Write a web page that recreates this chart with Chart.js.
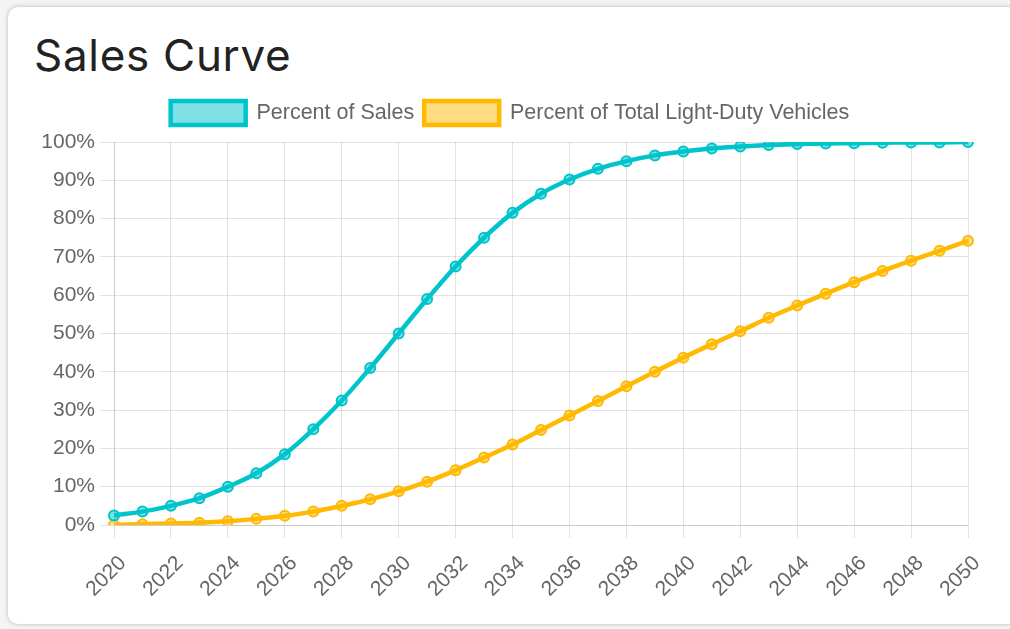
<!DOCTYPE html>
<html lang="en">
<head>
    <meta charset="UTF-8">
    <title>Sales Curve</title>
    <script src="https://cdn.jsdelivr.net/npm/chart.js"></script>
    <style>
        body { margin: 0; background: #f4f4f4; width: 1010px; height: 629px; overflow: hidden; }
        .card {
            position: absolute; left: 8px; top: 7px; width: 1010px; height: 617px;
            background: #fff; border-radius: 10px;
            box-shadow: 0 0 4px rgba(0,0,0,0.25);
        }
        h2 {
            position: absolute; left: 26px; top: 21px; margin: 0;
            font-family: "Inter", sans-serif; font-weight: 400; font-size: 44px;
            color: #222; letter-spacing: 0.7px;
        }
        #salesChart { position: absolute; left: 0; top: 82px; }
    </style>
</head>
<body>
<div class="card">
    <h2>Sales Curve</h2>
    <canvas id="salesChart" width="1000" height="520"></canvas>
</div>
<script>
    const years = [];
    for (let y = 2020; y <= 2050; y++) years.push(String(y));

    const percentOfSales = [2.5, 3.5, 5, 7, 10, 13.5, 18.5, 25, 32.5, 41, 50, 59, 67.5, 75, 81.5, 86.5,
        90.2, 93, 95, 96.5, 97.5, 98.3, 98.8, 99.2, 99.5, 99.6, 99.7, 99.8, 99.9, 99.9, 100];
    const percentOfTotal = [0, 0.2, 0.4, 0.6, 1, 1.6, 2.4, 3.5, 5, 6.7, 8.8, 11.3, 14.3, 17.6, 21, 24.8,
        28.6, 32.4, 36.2, 40, 43.7, 47.2, 50.6, 54.1, 57.3, 60.4, 63.4, 66.3, 69, 71.6, 74.2];

    const cyan = "rgb(0,196,204)";
    const yellow = "rgb(255,185,0)";
    const tickFont = { size: 21, family: "Liberation Sans, Arial" };

    // more room under the legend, and push it right so it sits over the plot
    const legendTweak = {
        id: "legendTweak",
        beforeInit(chart) {
            const legend = chart.legend;
            const fit = legend.fit;
            legend.fit = function () {
                fit.call(this);
                this.height += 7;
            };
            const draw = legend.draw;
            legend.draw = function (area) {
                this.left += 22; this.right += 22;
                draw.call(this, area);
                this.left -= 22; this.right -= 22;
            };
        }
    };

    const ctx = document.getElementById("salesChart").getContext("2d");
    new Chart(ctx, {
        type: "line",
        data: {
            labels: years,
            datasets: [
                { label: "Percent of Sales", data: percentOfSales, borderColor: cyan,
                  backgroundColor: "rgba(0,196,204,0.5)", borderWidth: 4.5, pointRadius: 5,
                  pointBorderWidth: 2, tension: 0.4, fill: false },
                { label: "Percent of Total Light-Duty Vehicles", data: percentOfTotal, borderColor: yellow,
                  backgroundColor: "rgba(255,185,0,0.5)", borderWidth: 4.5, pointRadius: 5,
                  pointBorderWidth: 2, tension: 0.4, fill: false }
            ]
        },
        plugins: [legendTweak],
        options: {
            responsive: false,
            animation: false,
            layout: { padding: { top: 2, right: 40, bottom: 9, left: 0 } },
            plugins: {
                legend: {
                    position: "top",
                    labels: { color: "#666", font: { size: 21.5, family: "Liberation Sans, Arial" },
                              boxWidth: 75, boxHeight: 24, padding: 10 }
                },
                tooltip: { enabled: false }
            },
            scales: {
                x: {
                    grid: { color: "rgba(0,0,0,0.11)", tickLength: 13 },
                    border: { color: "rgba(0,0,0,0.11)" },
                    ticks: { color: "#666", font: tickFont, padding: 13, labelOffset: 9,
                             maxRotation: 45, minRotation: 45, autoSkip: true, maxTicksLimit: 16 },
                    afterFit(scale) { scale.height = 75; }
                },
                y: {
                    min: 0, max: 100,
                    grid: { color: "rgba(0,0,0,0.11)", tickLength: 14 },
                    border: { color: "rgba(0,0,0,0.11)" },
                    ticks: { color: "#666", stepSize: 10, padding: 5, font: tickFont,
                             callback: v => v + "%" },
                    afterFit(scale) { scale.width = 106; }
                }
            }
        }
    });
</script>
</body>
</html>
